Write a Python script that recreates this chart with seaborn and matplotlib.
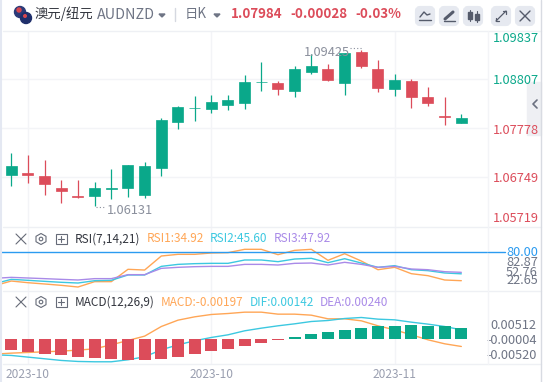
import matplotlib
matplotlib.use("Agg")
import matplotlib.pyplot as plt
from matplotlib.patches import Circle, FancyBboxPatch, Polygon, Rectangle
import pandas as pd
import seaborn as sns

# daily candles
opens = [1.06789, 1.06831, 1.06768, 1.06516, 1.06358, 1.06348, 1.06501, 1.06516, 1.06369, 1.06936,
         1.07909, 1.08191, 1.08176, 1.08260, 1.08303, 1.08744, 1.08723, 1.08555, 1.08954, 1.09017,
         1.08723, 1.09375, 1.09017, 1.08597, 1.08765, 1.08429, 1.08029, 1.07882]
closes = [1.06978, 1.06789, 1.06600, 1.06453, 1.06337, 1.06516, 1.06516, 1.06999, 1.06978, 1.07945,
          1.08218, 1.08197, 1.08324, 1.08366, 1.08744, 1.08750, 1.08597, 1.09017, 1.09080, 1.08786,
          1.09354, 1.09080, 1.08618, 1.08786, 1.08429, 1.08303, 1.08008, 1.07984]
highs = [1.07258, 1.07209, 1.07104, 1.06684, 1.06684, 1.06642, 1.06915, 1.06999, 1.07062, 1.07987,
         1.08239, 1.08450, 1.08471, 1.08471, 1.08891, 1.09164, 1.08765, 1.09080, 1.09333, 1.09122,
         1.09354, 1.09425, 1.09206, 1.08912, 1.08807, 1.08639, 1.08429, 1.08071]
lows = [1.06558, 1.06621, 1.06369, 1.06201, 1.06306, 1.06131, 1.06285, 1.06327, 1.06306, 1.06768,
        1.07756, 1.07924, 1.08092, 1.08155, 1.08176, 1.08555, 1.08471, 1.08429, 1.08912, 1.08765,
        1.08471, 1.09038, 1.08534, 1.08450, 1.08197, 1.08239, 1.07840, 1.07882]

# indicator series start one session before the first visible candle
line_x = list(range(-1, 28))
rsi1 = [27.2, 34.4, 31.8, 29.8, 27.7, 25.1, 33.4, 33.4, 52.6, 51.5, 73.3, 75.9, 75.9, 78.0, 78.5,
        83.7, 83.7, 75.4, 82.1, 83.7, 66.6, 76.9, 65.5, 52.0, 55.7, 45.8, 42.7, 36.0, 34.92]
rsi2 = [30.3, 37.0, 35.5, 33.9, 32.4, 31.3, 34.9, 35.5, 43.8, 43.8, 57.2, 60.3, 61.4, 61.9, 61.9,
        67.1, 67.1, 64.5, 68.6, 69.7, 62.9, 69.1, 62.4, 55.7, 58.3, 52.0, 50.5, 46.9, 45.6]
rsi3 = [38.6, 40.1, 39.1, 38.1, 37.0, 36.0, 38.1, 38.1, 44.3, 44.3, 54.1, 55.7, 56.7, 57.2, 57.2,
        60.3, 60.3, 59.3, 61.9, 62.4, 59.3, 63.5, 60.3, 55.7, 57.2, 53.1, 52.0, 48.9, 47.92]

macd_line = [-.00515, -.00482, -.00459, -.00437, -.00414, -.00381, -.00336, -.00202, -.00056, .00090,
             .00414, .00627, .00739, .00818, .00851, .00896, .00896, .00829, .00829, .00795,
             .00672, .00672, .00605, .00437, .00302, .00134, -.00034, -.00168, -.00258]
dif_line = [-.00538, -.00560, -.00616, -.00672, -.00728, -.00762, -.00773, -.00773, -.00706, -.00605,
            -.00370, -.00202, -.00067, .00045, .00134, .00269, .00358, .00437, .00504, .00582,
            .00616, .00683, .00717, .00661, .00638, .00560, .00493, .00414, .00302]
macd_bars = [-.00370, -.00437, -.00504, -.00538, -.00605, -.00638, -.00672, -.00706, -.00706, -.00672,
             -.00605, -.00504, -.00403, -.00336, -.00235, -.00134, -.00034, .00067, .00168, .00235,
             .00302, .00370, .00437, .00437, .00470, .00437, .00437, .00370]

price_ticks = [1.08807, 1.07778, 1.06749]
macd_ticks = [0.00512, -0.00004, -0.00520]
macd_tick_labels = ["0.00512", "-0.00004", "-0.00520"]
date_labels = ["2023-10", "2023-10", "2023-11"]
date_pos = [1, 12, 23]

UP = "#0aa88a"
DOWN = "#dc4c5a"
GRID = "#f3f4f7"
ORANGE = "#ffa656"
CYAN = "#3cc8e0"
PURPLE = "#a98ae8"
BLUE = "#2b9bf0"
GRAY = "#6f7585"
LIGHT = "#9a9fb0"

sns.set_theme(style="white")
plt.rcParams["font.family"] = ["Noto Sans CJK SC", "DejaVu Sans"]

W, H = 544, 382
fig = plt.figure(figsize=(W / 100, H / 100), dpi=100)


def panel(top, bottom):
    ax = fig.add_axes([0, 1 - bottom / H, 488 / W, (bottom - top) / H])
    ax.set_xlim(-0.678, 28.6)
    ax.set_xticks(date_pos)
    ax.set_xticklabels([])
    ax.tick_params(length=0)
    ax.grid(axis="x", color=GRID, lw=1)
    for s in ax.spines.values():
        s.set_visible(False)
    ax.set_axisbelow(True)
    return ax


# price panel
ax1 = panel(31, 227)
colors = [UP if c >= o else DOWN for o, c in zip(opens, closes)]
xs = list(range(len(opens)))
ax1.vlines(xs, lows, highs, colors=colors, lw=0.9)
ax1.bar(xs, [abs(c - o) for o, c in zip(opens, closes)], bottom=[min(o, c) for o, c in zip(opens, closes)],
        width=0.66, color=colors, edgecolor=colors, lw=0.5)
ax1.set_ylim(1.05696, 1.09816)
ax1.set_yticks(price_ticks)
ax1.set_yticklabels([])
ax1.grid(axis="y", color=GRID, lw=1)

# RSI panel
ax2 = panel(227, 291)
rsi_df = pd.DataFrame({"x": line_x * 3, "v": rsi1 + rsi2 + rsi3,
                       "s": ["rsi1"] * 29 + ["rsi2"] * 29 + ["rsi3"] * 29})
sns.lineplot(data=rsi_df, x="x", y="v", hue="s", palette=[ORANGE, CYAN, PURPLE], lw=1,
             legend=False, errorbar=None, ax=ax2)
ax2.axhline(80, color=BLUE, lw=1)
ax2.set_xlim(-0.678, 28.6)
ax2.set_ylim(80 - (291 - 251.7) * 1.555, 80 + (251.7 - 227) * 1.555)
ax2.set_xlabel("")
ax2.set_ylabel("")
ax2.set_yticks([])

# MACD panel, bars sit over the lines
ax3 = panel(291, 364)
macd_df = pd.DataFrame({"x": line_x * 2, "v": macd_line + dif_line, "s": ["macd"] * 29 + ["dif"] * 29})
sns.lineplot(data=macd_df, x="x", y="v", hue="s", palette=[ORANGE, CYAN], lw=1, legend=False,
             errorbar=None, zorder=2, ax=ax3)
bar_df = pd.DataFrame({"x": xs, "v": macd_bars, "side": ["up" if v > 0 else "down" for v in macd_bars]})
sns.barplot(data=bar_df, x="x", y="v", hue="side", palette={"up": UP, "down": DOWN}, native_scale=True,
            dodge=False, width=0.72, legend=False, saturation=1, lw=0, zorder=3, ax=ax3)
ax3.set_xlim(-0.678, 28.6)
ax3.set_ylim(-(364.3 - 339) * 0.000335, (339 - 291) * 0.000335)
ax3.set_xticks(date_pos)
ax3.set_xticklabels([])
ax3.set_xlabel("")
ax3.set_ylabel("")
ax3.set_yticks(macd_ticks)
ax3.yaxis.tick_right()
ax3.set_yticklabels(macd_tick_labels, fontsize=9.2, color=GRAY, ha="right")
ax3.tick_params(axis="y", length=0, pad=35)  # pad is in points, labels end at x=537
ax3.grid(False, axis="y")

# overlay in image pixels for header, legends and the pushed-apart axis labels
ov = fig.add_axes([0, 0, 1, 1], zorder=10)
ov.set_xlim(0, W)
ov.set_ylim(H, 0)
ov.axis("off")
ov.patch.set_alpha(0)


def txt(x, y, s, color=GRAY, size=9.2, ha="left", **kw):
    ov.text(x, y, s, color=color, fontsize=size, ha=ha, va="center", **kw)


# panel separators and frame
for y in [31, 227, 291, 364]:
    ov.plot([3, 541], [y, y], color="#eef0f4", lw=1)
ov.plot([488, 488], [31, 364], color=GRID, lw=1)
ov.plot([1, 1], [0, 382], color="#e4e8f2", lw=1.5)
ov.plot([541, 541], [0, 382], color="#d8dbe2", lw=1)

# header
ov.add_patch(Circle((20, 12), 5.5, color="#2b3a78"))
ov.add_patch(Circle((26, 18), 5.5, color="#1f2f6b"))
ov.add_patch(Circle((19, 10), 2, color="#d8474f"))
ov.add_patch(Circle((25, 16), 1.3, color="#d8474f"))
txt(35, 14, "澳元/纽元", color="#33363f", size=9.6)
txt(97, 15, "AUDNZD", color=GRAY, size=10.3)
ov.add_patch(Polygon([[159, 14], [165, 14], [162, 17]], color=GRAY))
ov.plot([175, 175], [8, 21], color="#d5d8e0", lw=1)
txt(185, 14, "日K", color=GRAY, size=9.6)
ov.add_patch(Polygon([[214, 14], [220, 14], [217, 17]], color=GRAY))
txt(231, 14, "1.07984", color=DOWN, size=9.6, fontweight="bold")
txt(290, 14, "-0.00028", color=DOWN, size=9.6, fontweight="bold")
txt(355, 14, "-0.03%", color=DOWN, size=9.6, fontweight="bold")

# toolbar buttons
for bx in [415, 439, 463, 491, 515]:
    ov.add_patch(FancyBboxPatch((bx + 2, 8), 16, 16, boxstyle="round,pad=0,rounding_size=3",
                                mutation_aspect=1, fc="#e6e9f0", ec="#e6e9f0", lw=3))
ov.plot([420, 424, 427, 430], [17, 12, 15, 14], color="#555b6b", lw=1)
ov.plot([419, 431], [20, 20], color="#555b6b", lw=1)
ov.plot([445, 453], [19, 12], color="#555b6b", lw=2.2)
ov.plot([444, 455], [21, 21], color="#555b6b", lw=1)
ov.plot([470, 470], [10, 21], color="#555b6b", lw=0.8)
ov.plot([477, 477], [11, 22], color="#555b6b", lw=0.8)
ov.add_patch(Rectangle((468, 12), 4, 7, color="#555b6b"))
ov.add_patch(Rectangle((475, 14), 4, 6, color="#555b6b"))
ov.plot([496, 506], [21, 11], color="#555b6b", lw=0.9)
ov.plot([496, 496, 499], [18, 21, 21], color="#555b6b", lw=0.9)
ov.plot([503, 506, 506], [11, 11, 14], color="#555b6b", lw=0.9)
ov.plot([520, 530], [11, 21], color="#555b6b", lw=1)
ov.plot([520, 530], [21, 11], color="#555b6b", lw=1)

# price axis labels
txt(493, 38, "1.09837", color=UP)
txt(493, 80, "1.08807", color=UP)
txt(493, 130, "1.07778", color=DOWN)
txt(493, 179, "1.06749", color=DOWN)
txt(493, 218, "1.05719", color=DOWN)

# side collapse tab
ov.add_patch(Rectangle((527, 82), 14, 53, color="#eeeff3"))
ov.plot([537, 533, 537], [100, 104, 108], color="#6b7080", lw=1.2)

# high and low marks
txt(304, 52, "1.09425", color="#8a8f9c")
ov.plot([350, 362], [48, 48], color="#8a8f9c", lw=0.8, ls=(0, (1, 2)))
txt(107, 210, "1.06131", color="#8a8f9c")
ov.plot([96, 104], [207, 207], color="#8a8f9c", lw=0.8, ls=(0, (1, 2)))


def pane_icons(y):
    ov.plot([16, 26], [y - 5, y + 5], color="#666b78", lw=0.8)
    ov.plot([16, 26], [y + 5, y - 5], color="#666b78", lw=0.8)
    ov.add_patch(Polygon([[41, y - 5.5], [46, y - 2.7], [46, y + 2.7], [41, y + 5.5], [36, y + 2.7], [36, y - 2.7]],
                         fill=False, ec="#666b78", lw=0.8))
    ov.add_patch(Circle((41, y), 1.8, fill=False, ec="#666b78", lw=0.8))
    ov.add_patch(Rectangle((55.5, y - 5), 11, 10, fill=False, ec="#666b78", lw=0.8))
    ov.plot([58, 64], [y, y], color="#666b78", lw=0.8)
    ov.plot([61, 61], [y - 3, y + 3], color="#666b78", lw=0.8)


pane_icons(239)
txt(75, 239, "RSI(7,14,21)", color="#33363f", size=8.5)
txt(147, 239, "RSI1:34.92", color=ORANGE, size=8.5)
txt(210, 239, "RSI2:45.60", color=CYAN, size=8.5)
txt(274, 239, "RSI3:47.92", color=PURPLE, size=8.5)

# RSI axis labels, the blue level line runs on up to its tag
ov.plot([488, 505], [251.7, 251.7], color=BLUE, lw=1)
txt(506, 252, "80.00", color=BLUE)
txt(506, 262, "82.87")
txt(506, 272, "52.76")
txt(506, 281, "22.65")

pane_icons(302)
txt(75, 302, "MACD(12,26,9)", color="#33363f", size=8.5)
txt(161, 302, "MACD:-0.00197", color=ORANGE, size=8.5)
txt(250, 302, "DIF:0.00142", color=CYAN, size=8.5)
txt(320, 302, "DEA:0.00240", color=PURPLE, size=8.5)

# date labels
for pos, label in zip(date_pos, date_labels):
    txt(11.3 + 16.67 * pos, 374, label, color=LIGHT, size=8.6, ha="center")

fig.savefig("out.png", dpi=100)
